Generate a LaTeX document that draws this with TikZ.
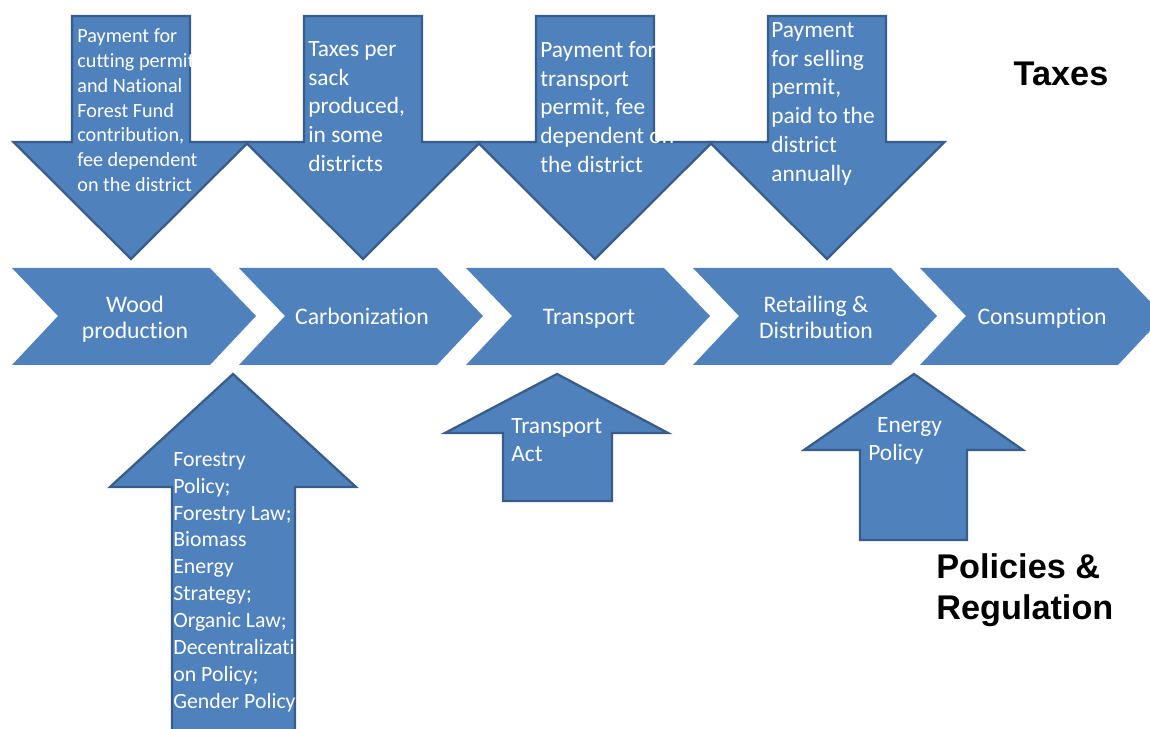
\documentclass[tikz,border=0pt]{standalone}
\usepackage{fontspec}
\setmainfont{Carlito}[Ligatures=NoCommon]
\newfontfamily\headfont{Liberation Sans}
\usetikzlibrary{positioning}
\definecolor{FlowBlue}{RGB}{79, 129, 189}
\definecolor{EdgeBlue}{RGB}{56, 93, 138}

\begin{document}
\begin{tikzpicture}[x=0.02cm, y=-0.02cm,
    chevron/.style={fill=FlowBlue},
    bigarrow/.style={fill=FlowBlue, draw=EdgeBlue, line width=1.3pt},
    steplabel/.style={text=white, align=center, font=\fontsize{13.5}{14.7}\selectfont},
    arrowtext/.style={text=white, align=left, anchor=north west, inner sep=0pt, font=\fontsize{13.3}{16.4}\selectfont},
    heading/.style={font=\headfont\bfseries\fontsize{19.5}{23.2}\selectfont}]
    \useasboundingbox (0,0) rectangle (1150,729);
    \clip (0,0) rectangle (1150,729);

    % Value chain
    \fill[chevron] (12,268) -- (210,268) -- (256,316) -- (210,365) -- (12,365) -- (58,316) -- cycle;
    \fill[chevron] (239,268) -- (437,268) -- (483,316) -- (437,365) -- (239,365) -- (285,316) -- cycle;
    \fill[chevron] (466,268) -- (664,268) -- (710,316) -- (664,365) -- (466,365) -- (512,316) -- cycle;
    \fill[chevron] (693,268) -- (891,268) -- (937,316) -- (891,365) -- (693,365) -- (739,316) -- cycle;
    \fill[chevron] (920,268) -- (1118,268) -- (1164,316) -- (1118,365) -- (920,365) -- (966,316) -- cycle;

    \node[steplabel] (wood) at (135,319) {Wood\\production};
    \node[steplabel] (carbon) at (362,316) {Carbonization};
    \node[steplabel] (transport) at (589,319) {Transport};
    \node[steplabel] (retail) at (816,317) {Retailing \&\\Distribution};
    \node[steplabel] (consume) at (1042,318) {Consumption};

    % Taxes (down arrows)
    \draw[bigarrow] (72,16) -- (190,16) -- (190,142) -- (248.5,142) -- (131,259) -- (13.5,142) -- (72,142) -- cycle;
    \draw[bigarrow] (304,16) -- (422,16) -- (422,142) -- (480.5,142) -- (363,259) -- (245.5,142) -- (304,142) -- cycle;
    \draw[bigarrow] (536,16) -- (654,16) -- (654,142) -- (712.5,142) -- (595,259) -- (477.5,142) -- (536,142) -- cycle;
    \draw[bigarrow] (768,16) -- (886,16) -- (886,142) -- (944.5,142) -- (827,259) -- (709.5,142) -- (768,142) -- cycle;

    % Policies (up arrows)
    \draw[bigarrow] (233,374) -- (356,487) -- (295,487) -- (295,745) -- (172,745) -- (172,487) -- (110,487) -- cycle;
    \draw[bigarrow] (557,374) -- (668,433) -- (612,433) -- (612,501) -- (503,501) -- (503,433) -- (445,433) -- cycle;
    \draw[bigarrow] (914,374) -- (1023,450) -- (967,450) -- (967,540) -- (860,540) -- (860,450) -- (804,450) -- cycle;

    % Arrow texts
    \node[arrowtext, font=\fontsize{11.5}{14.2}\selectfont] (cuttax) at (77,28)
        {Payment for\\cutting permit\\and National\\Forest Fund\\contribution,\\fee dependent\\on the district};
    \node[arrowtext] (sacktax) at (308,41) {Taxes per\\sack\\produced,\\in some\\districts};
    \node[arrowtext] (transtax) at (540,41) {Payment for\\transport\\permit, fee\\dependent on\\the district};
    \node[arrowtext] (selltax) at (771,22) {Payment\\for selling\\permit,\\paid to the\\district\\annually};

    \node[arrowtext, font=\fontsize{12.4}{15.3}\selectfont] (forestpol) at (173,452)
        {Forestry\\Policy;\\Forestry Law;\\Biomass\\Energy\\Strategy;\\Organic Law;\\Decentralizati\\on Policy;\\Gender Policy};
    \node[arrowtext, font=\fontsize{13.3}{15.9}\selectfont] (transact) at (511,418) {Transport\\Act};
    \node[arrowtext, font=\fontsize{13.3}{15.9}\selectfont] (energypol) at (868,417) {\hspace*{5pt}Energy\\Policy};

    % Headings
    \node[heading] (taxes) at (1061,74) {Taxes};
    \node[heading, anchor=west, align=left, inner sep=0pt] (policies) at (936,590) {Policies \&\\Regulation};
\end{tikzpicture}
\end{document}
